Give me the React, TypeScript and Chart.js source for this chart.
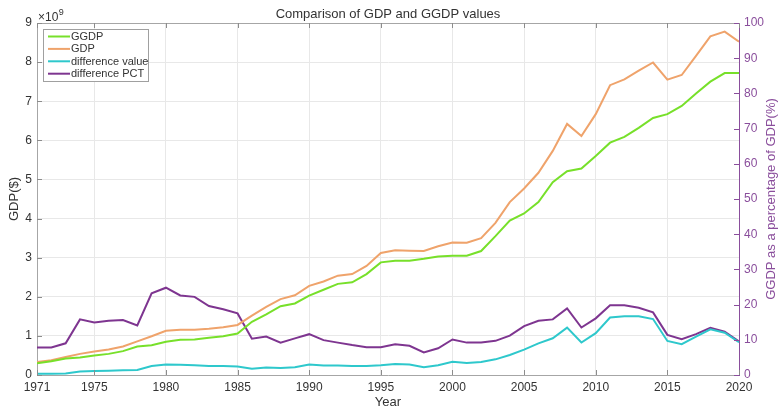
import { useEffect, useRef } from 'react';
import { Chart, registerables } from 'chart.js';

Chart.register(...registerables);

const years = [
  1971, 1972, 1973, 1974, 1975, 1976, 1977, 1978, 1979, 1980,
  1981, 1982, 1983, 1984, 1985, 1986, 1987, 1988, 1989, 1990,
  1991, 1992, 1993, 1994, 1995, 1996, 1997, 1998, 1999, 2000,
  2001, 2002, 2003, 2004, 2005, 2006, 2007, 2008, 2009, 2010,
  2011, 2012, 2013, 2014, 2015, 2016, 2017, 2018, 2019, 2020,
];

// values in units of 1e9 $
const ggdp = [
  0.30, 0.35, 0.42, 0.45, 0.50, 0.54, 0.61, 0.73, 0.76, 0.85,
  0.90, 0.91, 0.95, 0.99, 1.06, 1.36, 1.55, 1.76, 1.83, 2.03,
  2.18, 2.33, 2.37, 2.58, 2.88, 2.92, 2.92, 2.97, 3.03, 3.05,
  3.05, 3.17, 3.55, 3.95, 4.13, 4.42, 4.93, 5.21, 5.28, 5.60,
  5.94, 6.09, 6.32, 6.57, 6.67, 6.88, 7.20, 7.50, 7.72, 7.72,
];

const gdp = [
  0.33, 0.38, 0.46, 0.54, 0.60, 0.65, 0.73, 0.86, 0.99, 1.13,
  1.16, 1.16, 1.18, 1.22, 1.28, 1.52, 1.74, 1.94, 2.04, 2.28,
  2.39, 2.54, 2.58, 2.79, 3.12, 3.19, 3.18, 3.17, 3.29, 3.39,
  3.38, 3.50, 3.89, 4.42, 4.77, 5.17, 5.73, 6.42, 6.11, 6.67,
  7.41, 7.56, 7.78, 7.99, 7.55, 7.67, 8.16, 8.66, 8.78, 8.52,
];

const diffValue = [
  0.03, 0.03, 0.04, 0.09, 0.10, 0.11, 0.12, 0.13, 0.23, 0.27,
  0.26, 0.25, 0.23, 0.23, 0.22, 0.16, 0.19, 0.18, 0.20, 0.27,
  0.24, 0.24, 0.23, 0.23, 0.25, 0.28, 0.27, 0.20, 0.25, 0.34,
  0.31, 0.33, 0.40, 0.51, 0.65, 0.81, 0.94, 1.21, 0.83, 1.07,
  1.47, 1.50, 1.50, 1.43, 0.87, 0.79, 0.98, 1.17, 1.08, 0.84,
];

// percent
const diffPct = [
  7.8, 7.8, 9.0, 15.8, 14.9, 15.4, 15.6, 14.1, 23.2, 24.8,
  22.6, 22.2, 19.6, 18.7, 17.5, 10.3, 10.9, 9.2, 10.4, 11.6,
  9.9, 9.2, 8.5, 7.9, 7.9, 8.7, 8.3, 6.4, 7.6, 10.1,
  9.2, 9.2, 9.7, 11.2, 13.9, 15.4, 15.8, 18.9, 13.5, 16.1,
  19.8, 19.8, 19.1, 17.8, 11.4, 10.2, 11.6, 13.4, 12.3, 9.5,
];

const xTicks = [1971, 1975, 1980, 1985, 1990, 1995, 2000, 2005, 2010, 2015, 2020];
const leftTicks = [0, 1, 2, 3, 4, 5, 6, 7, 8, 9];
const rightTicks = [0, 10, 20, 30, 40, 50, 60, 70, 80, 90, 100];

const seriesNames = ['GGDP', 'GDP', 'difference value', 'difference PCT'];
const titleText = 'Comparison of GDP and GGDP values';
const xTitle = 'Year';
const yTitle = 'GDP($)';
const y2Title = 'GGDP as a percentage of GDP(%)';

const COLORS = ['#77E02A', '#EFA36B', '#2EC8CC', '#7E3590'];
const PURPLE_TEXT = '#8A4E9C';
const TEXT = '#333333';
const FONT = 'Arial, "Liberation Sans", Helvetica, sans-serif';

const decorPlugin = {
  id: 'decor',
  afterDraw(chart: any) {
    const ctx = chart.ctx as CanvasRenderingContext2D;
    const area = chart.chartArea;
    const sx = chart.scales.x;
    const sy = chart.scales.y;
    const sy2 = chart.scales.y2;
    ctx.save();

    // top border
    ctx.strokeStyle = '#a6a6a6';
    ctx.lineWidth = 1;
    ctx.beginPath();
    ctx.moveTo(area.left, area.top + 0.5);
    ctx.lineTo(area.right, area.top + 0.5);
    ctx.stroke();

    // inward ticks
    ctx.strokeStyle = '#8c8c8c';
    ctx.beginPath();
    xTicks.forEach((v) => {
      const px = Math.round(sx.getPixelForValue(v)) + 0.5;
      ctx.moveTo(px, area.bottom);
      ctx.lineTo(px, area.bottom - 5);
      ctx.moveTo(px, area.top);
      ctx.lineTo(px, area.top + 5);
    });
    leftTicks.forEach((v) => {
      const py = Math.round(sy.getPixelForValue(v)) + 0.5;
      ctx.moveTo(area.left, py);
      ctx.lineTo(area.left + 5, py);
    });
    ctx.stroke();
    ctx.strokeStyle = PURPLE_TEXT;
    ctx.beginPath();
    rightTicks.forEach((v) => {
      const py = Math.round(sy2.getPixelForValue(v)) + 0.5;
      ctx.moveTo(area.right, py);
      ctx.lineTo(area.right - 5, py);
    });
    ctx.stroke();

    // title
    ctx.fillStyle = TEXT;
    ctx.font = `13px ${FONT}`;
    ctx.textAlign = 'center';
    ctx.textBaseline = 'middle';
    ctx.fillText(titleText, (area.left + area.right) / 2, 14);

    // x10^9
    ctx.textAlign = 'left';
    ctx.textBaseline = 'alphabetic';
    ctx.font = `12px ${FONT}`;
    ctx.fillText('\u00d710', 38, 21);
    const w = ctx.measureText('\u00d710').width;
    ctx.font = `9px ${FONT}`;
    ctx.fillText('9', 38 + w + 0.5, 15);

    // x title
    ctx.font = `13px ${FONT}`;
    ctx.textAlign = 'center';
    ctx.textBaseline = 'middle';
    ctx.fillText(xTitle, (area.left + area.right) / 2, 402);

    // y title
    const midY = (area.top + area.bottom) / 2;
    ctx.save();
    ctx.translate(14, midY);
    ctx.rotate(-Math.PI / 2);
    ctx.fillText(yTitle, 0, 0);
    ctx.restore();

    // y2 title
    ctx.save();
    ctx.fillStyle = PURPLE_TEXT;
    ctx.translate(771, midY);
    ctx.rotate(-Math.PI / 2);
    ctx.fillText(y2Title, 0, 0);
    ctx.restore();

    // legend
    const bx = 43.5, by = 29.5, bw = 105, bh = 52;
    ctx.fillStyle = '#ffffff';
    ctx.fillRect(bx, by, bw, bh);
    ctx.strokeStyle = '#a0a0a0';
    ctx.lineWidth = 1;
    ctx.strokeRect(bx, by, bw, bh);
    ctx.font = `11px ${FONT}`;
    ctx.textAlign = 'left';
    ctx.textBaseline = 'middle';
    seriesNames.forEach((name, i) => {
      const yy = 36.5 + i * 12.4;
      ctx.strokeStyle = COLORS[i];
      ctx.lineWidth = 2;
      ctx.beginPath();
      ctx.moveTo(48, yy);
      ctx.lineTo(70, yy);
      ctx.stroke();
      ctx.fillStyle = TEXT;
      ctx.fillText(name, 71, yy + 0.5);
    });

    ctx.restore();
  },
};

export default function App() {
  const canvasRef = useRef<HTMLCanvasElement | null>(null);

  useEffect(() => {
    document.body.style.margin = '0';
    const canvas = canvasRef.current;
    if (!canvas) return;

    const toPts = (arr: number[]) => years.map((yr, i) => ({ x: yr, y: arr[i] }));
    const series = [ggdp, gdp, diffValue, diffPct];

    const chart = new Chart(canvas, {
      type: 'line',
      data: {
        datasets: series.map((arr, i) => ({
          label: seriesNames[i],
          data: toPts(arr),
          borderColor: COLORS[i],
          backgroundColor: COLORS[i],
          borderWidth: 2,
          pointRadius: 0,
          tension: 0,
          yAxisID: i === 3 ? 'y2' : 'y',
        })),
      },
      options: {
        responsive: false,
        animation: false,
        devicePixelRatio: 1,
        layout: { padding: { top: 23, left: 0, right: 0, bottom: 0 } },
        plugins: {
          legend: { display: false },
          title: { display: false },
          tooltip: { enabled: false },
        },
        scales: {
          x: {
            type: 'linear',
            min: 1971,
            max: 2020,
            afterBuildTicks: (axis: any) => {
              axis.ticks = xTicks.map((v) => ({ value: v }));
            },
            afterFit: (s: any) => {
              s.height = 33;
            },
            ticks: {
              autoSkip: false,
              maxRotation: 0,
              padding: 5,
              color: TEXT,
              font: { family: FONT, size: 12 },
              callback: (v: any) => String(v),
            },
            grid: { color: '#e8e8e8', drawTicks: false },
            border: { color: '#a6a6a6' },
          },
          y: {
            type: 'linear',
            position: 'left',
            min: 0,
            max: 9,
            afterBuildTicks: (axis: any) => {
              axis.ticks = leftTicks.map((v) => ({ value: v }));
            },
            afterFit: (s: any) => {
              s.width = 37;
            },
            ticks: {
              padding: 5,
              color: TEXT,
              font: { family: FONT, size: 12 },
              callback: (v: any) => String(v),
            },
            grid: { color: '#e8e8e8', drawTicks: false },
            border: { color: '#a6a6a6' },
          },
          y2: {
            type: 'linear',
            position: 'right',
            min: 0,
            max: 100,
            afterBuildTicks: (axis: any) => {
              axis.ticks = rightTicks.map((v) => ({ value: v }));
            },
            afterFit: (s: any) => {
              s.width = 39;
            },
            ticks: {
              padding: 5,
              color: PURPLE_TEXT,
              font: { family: FONT, size: 12 },
              callback: (v: any) => String(v),
            },
            grid: { display: false, drawTicks: false },
            border: { color: PURPLE_TEXT },
          },
        },
      },
      plugins: [decorPlugin],
    } as any);

    return () => {
      chart.destroy();
    };
  }, []);

  return (
    <div style={{ width: 778, height: 408 }}>
      <canvas ref={canvasRef} width={778} height={408} style={{ display: 'block' }} />
    </div>
  );
}
